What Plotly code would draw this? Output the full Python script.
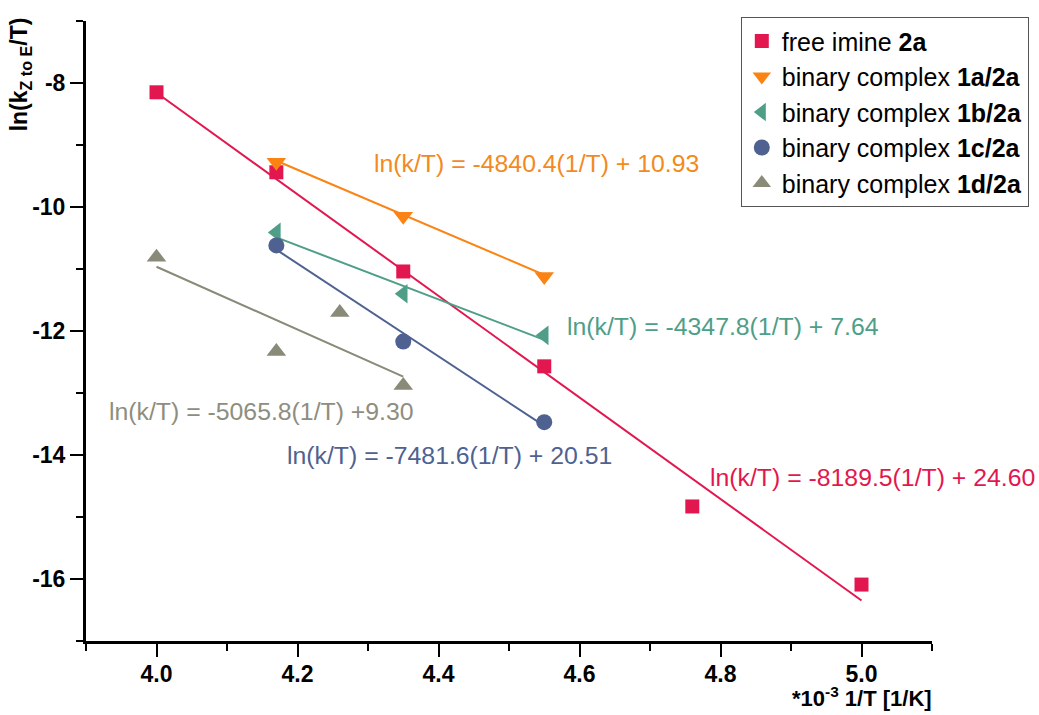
import numpy as np
import plotly.graph_objects as go

# 1/T values are in units of 1e-3 K^-1; y is ln(k/T)
x_2a = [4.00, 4.17, 4.35, 4.55, 4.76, 5.00]
y_2a = [-8.15, -9.44, -11.04, -12.57, -14.83, -16.09]

x_1a = [4.17, 4.35, 4.55]
y_1a = [-9.28, -10.15, -11.12]

x_1b = [4.17, 4.35, 4.55]
y_1b = [-10.41, -11.40, -12.07]

x_1c = [4.17, 4.35, 4.55]
y_1c = [-10.62, -12.17, -13.47]

x_1d = [4.00, 4.17, 4.26, 4.35]
y_1d = [-10.81, -12.33, -11.70, -12.88]

# linear fits: ln(k/T) = slope*(1/T) + intercept  (1/T in K^-1)
fit_slopes = [-8189.5, -4840.4, -4347.8, -7481.6, -5065.8]
fit_intercepts = [24.60, 10.93, 7.64, 20.51, 9.30]
fit_labels = [
    "ln(k/T) = -8189.5(1/T) + 24.60",
    "ln(k/T) = -4840.4(1/T) + 10.93",
    "ln(k/T) = -4347.8(1/T) + 7.64",
    "ln(k/T) = -7481.6(1/T) + 20.51",
    "ln(k/T) = -5065.8(1/T) +9.30",
]

# tick labels
x_tickvals = [4.0, 4.2, 4.4, 4.6, 4.8, 5.0]
x_ticktext = ["4.0", "4.2", "4.4", "4.6", "4.8", "5.0"]
y_tickvals = [-16, -14, -12, -10, -8]
y_ticktext = ["-16", "-14", "-12", "-10", "-8"]

names = [
    "free imine <b>2a</b>",
    "binary complex <b>1a/2a</b>",
    "binary complex <b>1b/2a</b>",
    "binary complex <b>1c/2a</b>",
    "binary complex <b>1d/2a</b>",
]
colors = ["#E3174F", "#FA8314", "#4E9E88", "#4F6191", "#898A78"]
label_colors = ["#E3174F", "#F28A1E", "#4E9E88", "#4F6191", "#8E8E80"]
symbols = ["square", "triangle-down", "triangle-left", "circle", "triangle-up"]
sizes = [14, 17, 17, 16, 17]
xs = [x_2a, x_1a, x_1b, x_1c, x_1d]
ys = [y_2a, y_1a, y_1b, y_1c, y_1d]

# label anchor (left edge x, vertical centre y) in data units
label_pos = [(4.782, -14.36), (4.305, -9.30), (4.580, -11.92), (4.182, -14.00), (3.930, -13.30)]

FONT = "Liberation Sans, Arial"

fig = go.Figure()

for i in range(5):
    xf = np.array([min(xs[i]), max(xs[i])])
    yf = fit_slopes[i] * xf * 1e-3 + fit_intercepts[i]
    fig.add_trace(go.Scatter(
        x=xf, y=yf, mode="lines", showlegend=False, hoverinfo="skip",
        line=dict(color=colors[i], width=2),
    ))

for i in range(5):
    fig.add_trace(go.Scatter(
        x=xs[i], y=ys[i], mode="markers", name=names[i],
        marker=dict(symbol=symbols[i], size=sizes[i], color=colors[i],
                    line=dict(width=0)),
    ))

for i in range(5):
    fig.add_annotation(
        x=label_pos[i][0], y=label_pos[i][1], xref="x", yref="y",
        text=fit_labels[i], showarrow=False, xanchor="left", yanchor="middle",
        font=dict(family=FONT, size=24.8, color=label_colors[i]),
    )

fig.add_annotation(
    x=-0.078, y=0.914, xref="paper", yref="paper",
    text="<b>ln(k<sub>Z to E</sub>/T)</b>", textangle=-90, showarrow=False,
    xanchor="center", yanchor="middle",
    font=dict(family=FONT, size=23, color="black"),
)
fig.add_annotation(
    x=0.917, y=-0.1165, xref="paper", yref="paper",
    text="<b>*10<sup>-3</sup> 1/T [1/K]</b>", showarrow=False,
    xanchor="center", yanchor="bottom",
    font=dict(family=FONT, size=22, color="black"),
)

axis_common = dict(
    showgrid=False, zeroline=False, showline=True, linecolor="black", linewidth=3,
    ticks="outside", ticklen=13, tickwidth=2, tickcolor="black",
)

fig.update_xaxes(
    range=[3.9, 5.1], tickvals=x_tickvals, ticktext=x_ticktext,
    tickfont=dict(family=FONT, size=23, color="black", weight="bold"),
    ticklabelstandoff=-3,
    minor=dict(dtick=0.1, tick0=3.9, ticks="outside", ticklen=7, tickwidth=2, tickcolor="black"),
    **axis_common,
)
fig.update_yaxes(
    range=[-17, -7], tickvals=y_tickvals, ticktext=y_ticktext,
    tickfont=dict(family=FONT, size=23, color="black", weight="bold"),
    minor=dict(dtick=1, tick0=-7, ticks="outside", ticklen=7, tickwidth=2, tickcolor="black"),
    **axis_common,
)

fig.update_layout(
    width=1039, height=715,
    margin=dict(l=86, r=107, t=21, b=74, autoexpand=False),
    paper_bgcolor="white", plot_bgcolor="white",
    showlegend=True,
    legend=dict(
        x=0.774, y=1.006, xanchor="left", yanchor="top",
        bgcolor="white", bordercolor="#555555", borderwidth=1,
        font=dict(family=FONT, size=25, color="black"),
        tracegroupgap=0,
    ),
)

fig.write_html("out.html")
